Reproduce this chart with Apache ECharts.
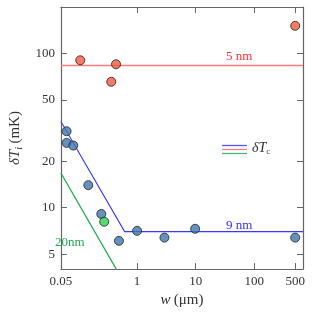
<!DOCTYPE html>
<html><head><meta charset="utf-8">
<script src="https://cdn.jsdelivr.net/npm/echarts@6/dist/echarts.min.js"></script>
<style>html,body{margin:0;padding:0;background:#fff}#c{width:335px;height:313px}</style>
</head><body><div id="c"></div>
<script>
const xTickLabels = [0.05, 1, 10, 100, 500];
const yTickLabels = [5, 10, 20, 50, 100];
const xRange = [0.05, 680];
const yRange = [4, 200];

const redW = [0.107, 0.362, 0.437, 500];
const redT = [90.3, 65.5, 85.1, 151];
const blueW = [0.0625, 0.0625, 0.0813, 0.147, 0.245, 0.49, 1.0, 2.93, 9.8, 500];
const blueT = [31.3, 26.3, 25.3, 14.0, 9.11, 6.10, 7.08, 6.40, 7.3, 6.4];
const greenW = [0.274];
const greenT = [8.11];

const redLineW = [0.05, 680];
const redLineT = [83.5, 83.5];
const blueLineW = [0.05, 0.613, 680];
const blueLineT = [36.2, 7.0, 7.0];
const greenLineW = [0.05, 0.5];
const greenLineT = [16.8, 3.68];

const L = Math.log10;
const pts = (xs, ys) => xs.map((x, i) => [L(x), L(ys[i])]);
const nearest = (v, arr) => arr.reduce((a, b) => Math.abs(L(b) - v) < Math.abs(L(a) - v) ? b : a);

const serif = 'Liberation Serif';
const axisColor = '#666';
const xTicks = xTickLabels.map(L);
const yTicks = yTickLabels.map(L);

function xAx(pos, labels) {
  return {
    type: 'value', position: pos, min: L(xRange[0]), max: L(xRange[1]),
    axisLine: { show: true, onZero: false, lineStyle: { color: axisColor, width: 1.2 } },
    axisTick: { show: true, inside: true, length: 6, customValues: xTicks, lineStyle: { color: axisColor } },
    axisLabel: { show: labels, customValues: xTicks, formatter: v => String(nearest(v, xTickLabels)),
      fontFamily: serif, fontSize: 13, color: '#333', margin: 6 },
    splitLine: { show: false }
  };
}
function yAx(pos, labels) {
  return {
    type: 'value', position: pos, min: L(yRange[0]), max: L(yRange[1]),
    axisLine: { show: true, onZero: false, lineStyle: { color: axisColor, width: 1.2 } },
    axisTick: { show: true, inside: true, length: 6, customValues: yTicks, lineStyle: { color: axisColor } },
    axisLabel: { show: labels, customValues: yTicks, formatter: v => String(nearest(v, yTickLabels)),
      fontFamily: serif, fontSize: 13, color: '#333', margin: 6 },
    splitLine: { show: false }
  };
}

const xa = xAx('bottom', true);
xa.name = '{i|w} {n|(μm)}';
xa.nameLocation = 'middle';
xa.nameGap = 23;
xa.nameTextStyle = { rich: { i: { fontFamily: serif, fontStyle: 'italic', fontSize: 15, color: '#333' },
  n: { fontFamily: serif, fontSize: 15, color: '#333' } } };
const ya = yAx('left', true);
ya.name = '{i|δT}{s|i} {n|(mK)}';
ya.nameLocation = 'middle';
ya.nameGap = 32;
ya.nameTextStyle = { rich: { i: { fontFamily: serif, fontStyle: 'italic', fontSize: 15, color: '#333' },
  s: { fontFamily: serif, fontStyle: 'italic', fontSize: 10, color: '#333', padding: [8, 0, 0, 0] },
  n: { fontFamily: serif, fontSize: 15, color: '#333' } } };

const dot = (name, xs, ys, color) => ({
  name, type: 'scatter', data: pts(xs, ys), symbol: 'circle', symbolSize: 9, z: 5,
  itemStyle: { color, borderColor: '#222', borderWidth: 1 }
});
const line = (name, xs, ys, color, w) => ({
  name, type: 'line', data: pts(xs, ys), symbol: 'none', clip: true, z: 2,
  lineStyle: { color, width: w }
});

const chart = echarts.init(document.getElementById('c'), null, { renderer: 'canvas' });
chart.setOption({
  animation: false,
  grid: { left: 50, right: 32, top: 7, bottom: 39 },
  xAxis: [xa, xAx('top', false)],
  yAxis: [ya, yAx('right', false)],
  series: [
    line('5 nm', redLineW, redLineT, '#ff7a7a', 1.5),
    line('9 nm', blueLineW, blueLineT, '#3a3aff', 1.1),
    line('20nm', greenLineW, greenLineT, '#22aa55', 1.3),
    dot('red', redW, redT, '#f25a3c'),
    dot('blue', blueW, blueT, '#3f76ad'),
    dot('green', greenW, greenT, '#2ad24a')
  ],
  graphic: [
    { type: 'text', left: 226, top: 50, style: { text: '5 nm', fill: '#ff3030', font: '13px "Liberation Serif"' } },
    { type: 'text', left: 226, top: 219, style: { text: '9 nm', fill: '#3030ff', font: '13px "Liberation Serif"' } },
    { type: 'text', left: 55, top: 236, style: { text: '20nm', fill: '#22aa55', font: '13px "Liberation Serif"' } },
    { type: 'line', shape: { x1: 222, y1: 145.5, x2: 247, y2: 145.5 }, style: { stroke: '#5555ff', lineWidth: 1.3 } },
    { type: 'line', shape: { x1: 222, y1: 149.5, x2: 247, y2: 149.5 }, style: { stroke: '#ff8080', lineWidth: 1.3 } },
    { type: 'line', shape: { x1: 222, y1: 153.5, x2: 247, y2: 153.5 }, style: { stroke: '#44bb77', lineWidth: 1.3 } },
    { type: 'text', left: 252, top: 141, style: { text: '{i|δT}{s|c}',
      rich: { i: { fontFamily: serif, fontStyle: 'italic', fontSize: 14, fill: '#333' },
              s: { fontFamily: serif, fontSize: 9, fill: '#333', padding: [7, 0, 0, 0] } } } }
  ]
});
</script></body></html>
